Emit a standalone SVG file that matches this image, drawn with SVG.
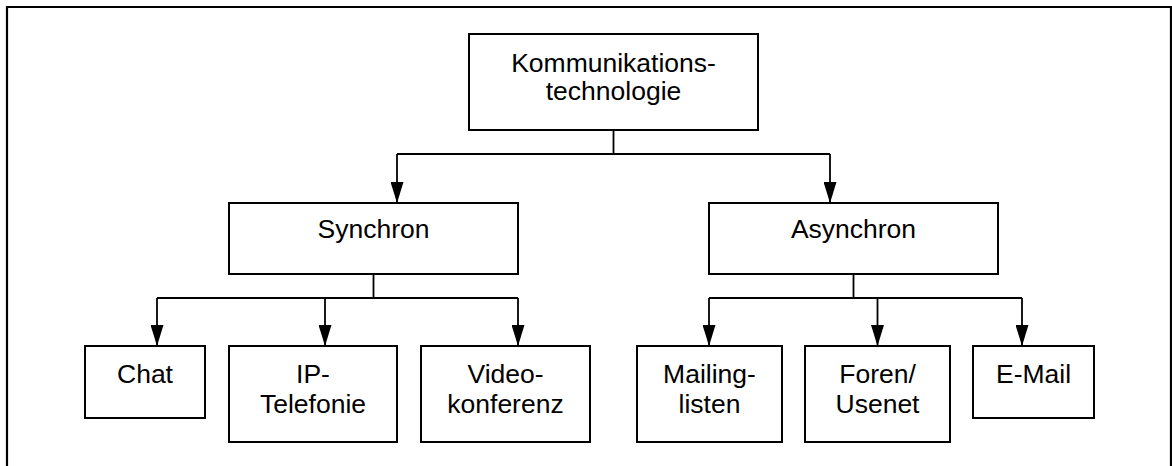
<svg xmlns="http://www.w3.org/2000/svg" width="1172" height="466" viewBox="0 0 1172 466">
  <style>
    .box { fill: #ffffff; stroke: #000000; stroke-width: 2; }
    .lbl { font-family: "Liberation Sans", Arial, sans-serif; font-size: 26.5px; fill: #000000; text-anchor: middle; }
    .wire { fill: none; stroke: #000000; stroke-width: 1.8; }
    .frame { fill: none; stroke: #000000; stroke-width: 2.2; }
  </style>
  <defs>
    <!-- filled arrowhead, drawn pointing along +x, tip at the end of the line -->
    <marker id="head" viewBox="0 0 21 13" refX="21" refY="6.5" markerWidth="21" markerHeight="13" markerUnits="userSpaceOnUse" orient="auto">
      <path d="M0,0 L21,6.5 L0,13 Z" fill="#000000"/>
    </marker>
  </defs>

  <rect width="1172" height="466" fill="#ffffff"/>

  <!-- outer frame (open at the bottom) -->
  <path class="frame" d="M7,466 V7 H1171 V466"/>

  <!-- connectors -->
  <g id="connectors">
    <path class="wire" d="M613.5,130 V154 M397,154 H830"/>
    <path class="wire" d="M397,154 V203" marker-end="url(#head)"/>
    <path class="wire" d="M830,154 V203" marker-end="url(#head)"/>

    <path class="wire" d="M373.5,274 V298 M157,298 H518"/>
    <path class="wire" d="M157,298 V346" marker-end="url(#head)"/>
    <path class="wire" d="M325,298 V346" marker-end="url(#head)"/>
    <path class="wire" d="M518,298 V346" marker-end="url(#head)"/>

    <path class="wire" d="M853.5,274 V298 M709,298 H1022"/>
    <path class="wire" d="M709,298 V346" marker-end="url(#head)"/>
    <path class="wire" d="M877.5,298 V346" marker-end="url(#head)"/>
    <path class="wire" d="M1022,298 V346" marker-end="url(#head)"/>
  </g>

  <g id="node-root">
    <rect class="box" x="469" y="34" width="289" height="96"/>
    <text class="lbl" x="613.5" y="72">Kommunikations-</text>
    <text class="lbl" x="613.5" y="100">technologie</text>
  </g>

  <g id="node-synchron">
    <rect class="box" x="229" y="203" width="289" height="71"/>
    <text class="lbl" x="373.5" y="238">Synchron</text>
  </g>

  <g id="node-asynchron">
    <rect class="box" x="709" y="203" width="289" height="71"/>
    <text class="lbl" x="853.5" y="238">Asynchron</text>
  </g>

  <g id="node-chat">
    <rect class="box" x="85" y="346" width="120" height="72"/>
    <text class="lbl" x="145" y="383">Chat</text>
  </g>

  <g id="node-ip-telefonie">
    <rect class="box" x="229" y="346" width="168" height="96"/>
    <text class="lbl" x="313" y="383">IP-</text>
    <text class="lbl" x="313" y="413">Telefonie</text>
  </g>

  <g id="node-videokonferenz">
    <rect class="box" x="421" y="346" width="169" height="96"/>
    <text class="lbl" x="505.5" y="383">Video-</text>
    <text class="lbl" x="505.5" y="413">konferenz</text>
  </g>

  <g id="node-mailinglisten">
    <rect class="box" x="637" y="346" width="145" height="96"/>
    <text class="lbl" x="709.5" y="383">Mailing-</text>
    <text class="lbl" x="709.5" y="413">listen</text>
  </g>

  <g id="node-foren-usenet">
    <rect class="box" x="805" y="346" width="145" height="96"/>
    <text class="lbl" x="877.5" y="383">Foren/</text>
    <text class="lbl" x="877.5" y="413">Usenet</text>
  </g>

  <g id="node-email">
    <rect class="box" x="973" y="346" width="121" height="72"/>
    <text class="lbl" x="1033.5" y="383">E-Mail</text>
  </g>
</svg>
